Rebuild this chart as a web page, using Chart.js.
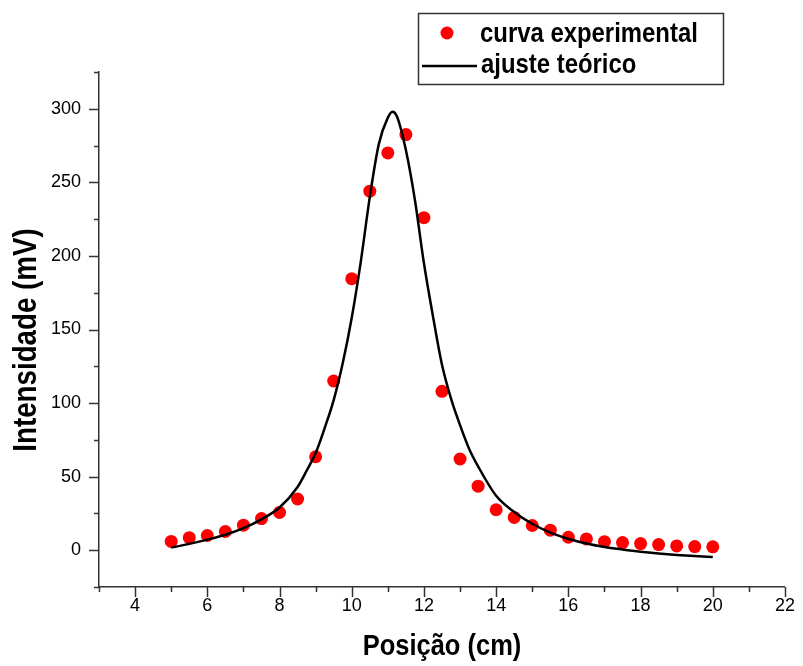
<!DOCTYPE html>
<html>
<head>
<meta charset="utf-8">
<script src="https://cdn.jsdelivr.net/npm/chart.js@4/dist/chart.umd.min.js"></script>
<style>
  html, body { margin:0; padding:0; background:#fff; }
  #wrap { width:803px; height:666px; }
</style>
</head>
<body>
<div id="wrap"><canvas id="chart" width="803" height="666"></canvas></div>
<script>
// experimental points
const posicao = [5, 5.5, 6, 6.5, 7, 7.5, 8, 8.5, 9, 9.5, 10, 10.5, 11, 11.5, 12, 12.5,
                 13, 13.5, 14, 14.5, 15, 15.5, 16, 16.5, 17, 17.5, 18, 18.5, 19, 19.5, 20];
const intensidade = [6, 8.5, 10, 12.7, 17, 21.5, 25.7, 34.8, 63.5, 115, 184.5, 244, 270, 282.5, 226, 108,
                     62, 43.5, 27.5, 22.3, 16.8, 13.6, 8.8, 7.7, 5.8, 5.2, 4.5, 3.8, 2.9, 2.5, 2.3];

// fitted curve, traced point by point
const ajusteX = [5, 5.5, 6, 6.5, 7, 7.5, 8, 8.5, 8.75, 9, 9.25, 9.5, 9.75, 10, 10.25, 10.5, 10.75, 11, 11.13,
                 11.25, 11.5, 11.75, 12, 12.25, 12.5, 12.75, 13, 13.25, 13.5, 14, 14.5, 15, 15.5, 16,
                 16.5, 17, 17.5, 18, 18.5, 19, 19.5, 20];
const ajusteY = [1.8, 4.3, 7.2, 10.5, 15, 21, 29, 43, 54, 66, 83, 102, 127, 158, 196, 240, 276, 294, 298,
                 295, 272, 238, 195, 159, 126, 103, 85, 69, 57, 37, 26, 18, 12, 7.8,
                 4.5, 2.2, 0.5, -1, -2.2, -3.2, -4, -4.6];

const xRange = [3, 22];
const yRange = [-25, 325];
const xTitle = 'Posição (cm)';
const yTitle = 'Intensidade (mV)';

const FONT = "'Liberation Sans', Arial, sans-serif";
const axisColor = '#333';

// the original uses a narrow face; squeeze the text horizontally
function narrowText(ctx, text, x, y, sx, rot){
  ctx.save();
  ctx.translate(x, y);
  if (rot) ctx.rotate(rot);
  ctx.scale(sx, 1);
  ctx.fillText(text, 0, 0);
  ctx.restore();
}

// short minor / long major tick marks pointing outwards
const tickMarks = {
  id: 'tickMarks',
  afterDraw(chart){
    const {ctx, chartArea, scales} = chart;
    ctx.save();
    ctx.strokeStyle = axisColor;
    ctx.lineWidth = 1.5;
    scales.x.ticks.forEach(t=>{
      const px = Math.round(scales.x.getPixelForValue(t.value)) + 0.5;
      const len = t.value % 2 === 0 ? 10 : 5;
      ctx.beginPath(); ctx.moveTo(px, chartArea.bottom); ctx.lineTo(px, chartArea.bottom + len); ctx.stroke();
    });
    scales.y.ticks.forEach(t=>{
      const py = Math.round(scales.y.getPixelForValue(t.value)) + 0.5;
      const len = t.value % 50 === 0 ? 10 : 5;
      ctx.beginPath(); ctx.moveTo(chartArea.left, py); ctx.lineTo(chartArea.left - len, py); ctx.stroke();
    });

    // axis titles
    ctx.fillStyle = '#000';
    ctx.textAlign = 'center';
    ctx.textBaseline = 'middle';
    ctx.font = 'bold 30px ' + FONT;
    narrowText(ctx, xTitle, (chartArea.left + chartArea.right) / 2, 647, 0.85);
    ctx.font = 'bold 33px ' + FONT;
    narrowText(ctx, yTitle, 27, 340, 0.84, -Math.PI / 2);
    ctx.restore();
  }
};

// boxed legend in the top right, as in the original
const boxLegend = {
  id: 'boxLegend',
  afterDraw(chart){
    const {ctx} = chart;
    const ds = chart.data.datasets;
    ctx.save();
    ctx.strokeStyle = axisColor;
    ctx.lineWidth = 1.5;
    ctx.strokeRect(418.5, 13.5, 305, 71);
    ctx.font = 'bold 27px ' + FONT;
    ctx.textBaseline = 'middle';
    ctx.textAlign = 'left';
    // row 1: marker
    ctx.fillStyle = ds[0].backgroundColor;
    ctx.beginPath(); ctx.arc(447, 33, ds[0].pointRadius, 0, Math.PI*2); ctx.fill();
    ctx.fillStyle = '#000';
    narrowText(ctx, ds[0].label, 480, 35, 0.885);
    // row 2: line sample
    ctx.strokeStyle = ds[1].borderColor;
    ctx.lineWidth = ds[1].borderWidth;
    ctx.beginPath(); ctx.moveTo(422, 66); ctx.lineTo(477, 66); ctx.stroke();
    narrowText(ctx, ds[1].label, 481, 66, 0.885);
    ctx.restore();
  }
};

new Chart(document.getElementById('chart'), {
  type: 'scatter',
  data: {
    datasets: [
      {
        label: 'curva experimental',
        data: posicao.map((x,i)=>({x, y:intensidade[i]})),
        backgroundColor: '#ff0000',
        borderWidth: 0,
        pointRadius: 6.5,
        pointHoverRadius: 6.5,
        order: 1
      },
      {
        type: 'line',
        label: 'ajuste teórico',
        data: ajusteX.map((x,i)=>({x, y:ajusteY[i]})),
        borderColor: '#000',
        borderWidth: 2.5,
        pointRadius: 0,
        fill: false,
        cubicInterpolationMode: 'monotone',
        order: 0
      }
    ]
  },
  options: {
    responsive: false,
    animation: false,
    layout: { padding: { top: 72, right: 14, left: 0, bottom: 0 } },
    plugins: { legend: { display:false }, tooltip: { enabled:false } },
    scales: {
      x: {
        type: 'linear',
        min: xRange[0], max: xRange[1],
        afterFit(s){ s.height = 79; },
        grid: { display:true, drawOnChartArea:false, drawTicks:false },
        border: { display:true, color:axisColor, width:1.5 },
        ticks: {
          stepSize: 1, autoSkip:false, maxRotation:0, padding: 8,
          color:'#000', font:{ family:FONT, size:18 },
          callback: v => v % 2 === 0 ? v : ''
        }
      },
      y: {
        min: yRange[0], max: yRange[1],
        afterFit(s){ s.width = 99; },
        grid: { display:true, drawOnChartArea:false, drawTicks:false },
        border: { display:true, color:axisColor, width:1.5 },
        ticks: {
          stepSize: 25, autoSkip:false, padding: 18,
          color:'#000', font:{ family:FONT, size:18 },
          callback: v => (v % 50 === 0 && v >= 0 && v <= 300) ? v : ''
        }
      }
    }
  },
  plugins: [tickMarks, boxLegend]
});
</script>
</body>
</html>
